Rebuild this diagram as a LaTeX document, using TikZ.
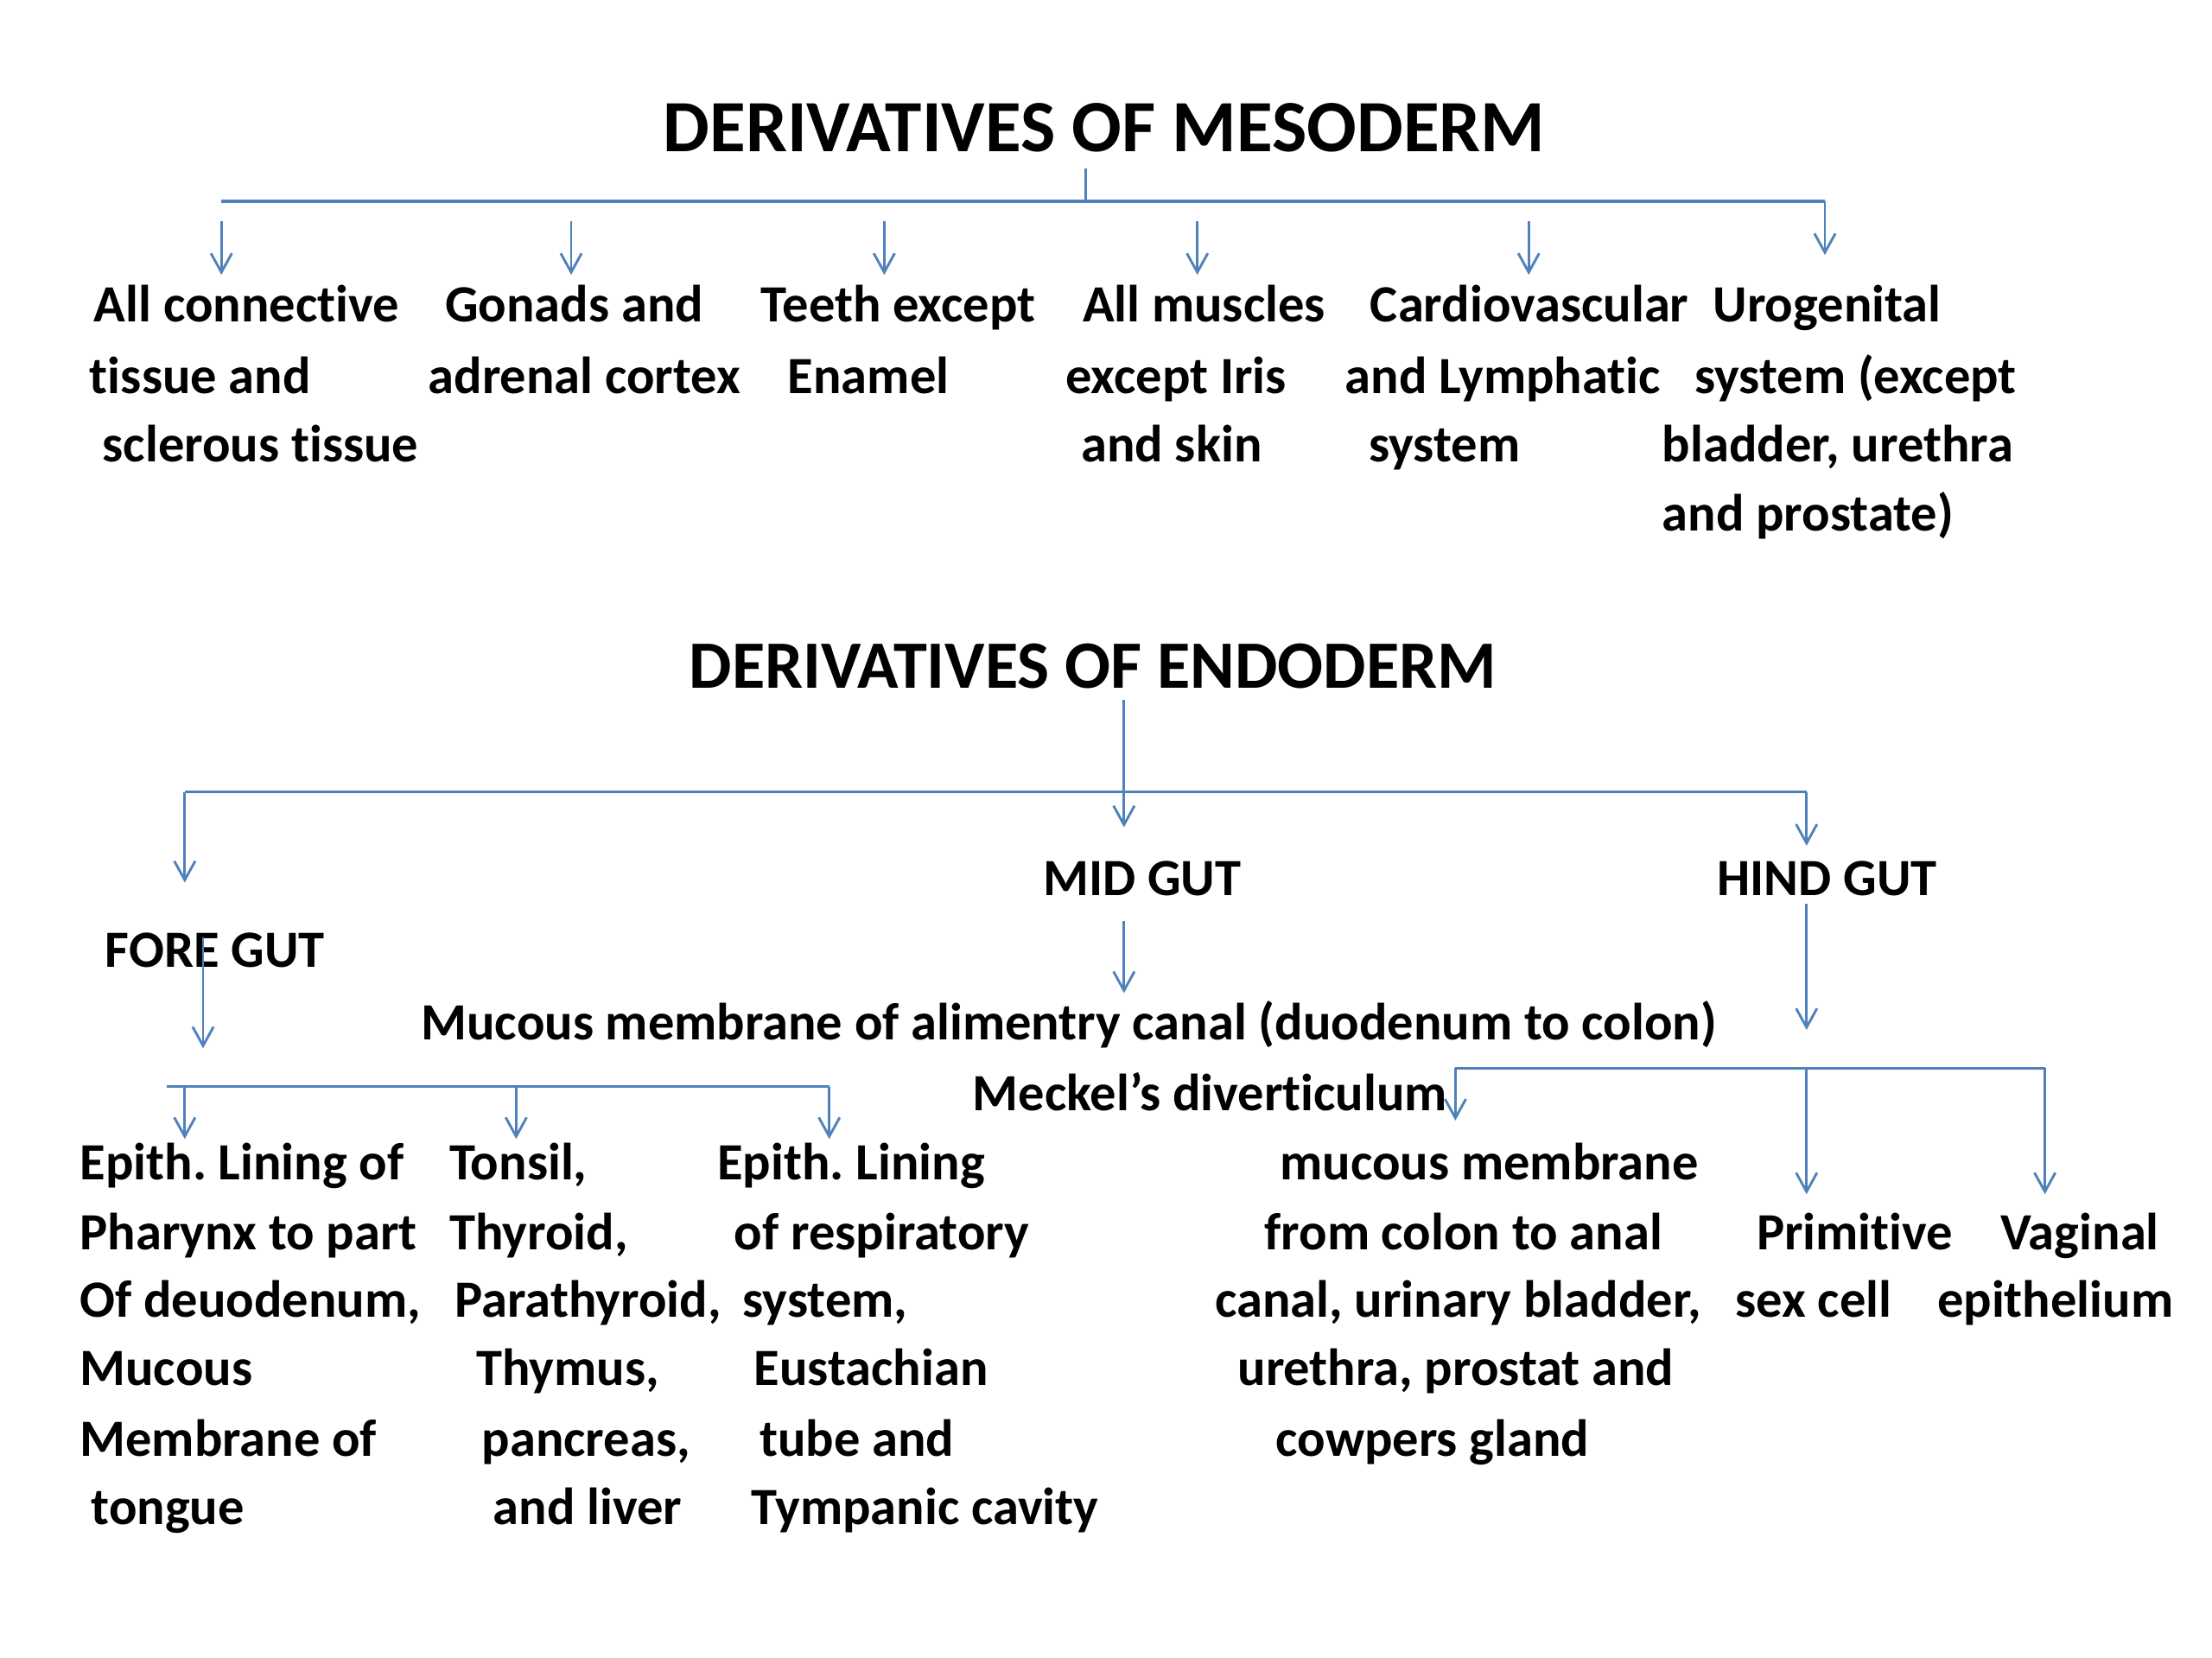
\documentclass[tikz,border=0pt]{standalone}
\usepackage{fontspec}
\setmainfont{Carlito}[Ligatures={NoCommon,NoRare},Contextuals=NoAlternate]
\usetikzlibrary{arrows.meta}
\definecolor{lnblue}{RGB}{79,129,189}
\frenchspacing
\begin{document}
\begin{tikzpicture}[x=0.009946cm,y=-0.01cm,
  txt/.style={anchor=base west,inner sep=0pt,font=\bfseries\fontsize{10.5}{12}\selectfont},
  ttl/.style={anchor=base,inner sep=0pt,font=\bfseries\fontsize{14.8}{18}\selectfont},
  ttlb/.style={anchor=base,inner sep=0pt,font=\bfseries\fontsize{13.6}{16}\selectfont},
  bar/.style={draw=lnblue,line width=0.6pt},
  arr/.style={draw=lnblue,line width=0.5pt,-{Straight Barb[length=3.8pt,width=4.2pt]}}]
\useasboundingbox (0,0) rectangle (1568.5,1170);
\fill[white] (0,0) rectangle (1568.5,1170);

% ---------- MESODERM ----------
\node[ttl] (meso) at (783,107) {DERIVATIVES OF MESODERM};
\coordinate (mtop) at (770,119);
\coordinate (mmid) at (770,142);
\coordinate (mL) at (157,142);
\coordinate (mR) at (1294,142);
\coordinate (mRend) at (1294,180);
\draw[bar] (mtop) -- (mmid);
\draw[bar] (mL) -- (mR);
\draw[arr] (mR) -- (mRend);
\foreach \i/\x in {1/157,2/405,3/627,4/849,5/1084}{
  \coordinate (ma\i) at (\x,156);
  \coordinate (mb\i) at (\x,194);
  \draw[arr] (ma\i) -- (mb\i);
}

\node[txt] (m1a) at (66,227) {All connective};
\node[txt] (m1b) at (63,278) {tissue and};
\node[txt] (m1c) at (72,326) {sclerous tissue};

\node[txt] (m2a) at (315,227) {Gonads and};
\node[txt] (m2b) at (303,278) {adrenal cortex};

\node[txt] (m3a) at (539,227) {Teeth except};
\node[txt] (m3b) at (558,278) {Enamel};

\node[txt] (m4a) at (767,227) {All muscles};
\node[txt] (m4b) at (755,278) {except Iris};
\node[txt] (m4c) at (766,326) {and skin};

\node[txt] (m5a) at (971,227) {Cardiovascular};
\node[txt] (m5b) at (953,278) {and Lymphatic};
\node[txt] (m5c) at (970,326) {system};

\node[txt] (m6a) at (1214,227) {Urogenital};
\node[txt] (m6b) at (1201,278) {system (except};
\node[txt] (m6c) at (1178,326) {bladder, urethra};
\node[txt] (m6d) at (1178,375) {and prostate)};

% ---------- ENDODERM ----------
\node[ttlb] (endo) at (775,486) {DERIVATIVES OF ENDODERM};
\coordinate (etop) at (797,494);
\coordinate (eMid) at (797,584);
\coordinate (eL) at (131,559);
\coordinate (eLend) at (131,623);
\coordinate (eR) at (1281,559);
\coordinate (eRend) at (1281,597);
\draw[bar] (eL) -- (eR);
\draw[arr] (etop) -- (eMid);
\draw[arr] (eL) -- (eLend);
\draw[arr] (eR) -- (eRend);

\node[txt] (mid) at (739,632) {MID GUT};
\node[txt] (hind) at (1217,632) {HIND GUT};
\node[txt] (fore) at (74,683) {FORE GUT};

\coordinate (f0) at (144,662);
\coordinate (f1) at (144,740);
\draw[arr] (f0) -- (f1);
\coordinate (g0) at (797,650);
\coordinate (g1) at (797,701);
\draw[arr] (g0) -- (g1);
\coordinate (h0) at (1281,638);
\coordinate (h1) at (1281,727);
\draw[arr] (h0) -- (h1);

\node[txt] (muc) at (298,734) {Mucous membrane of alimentry canal (duodenum to colon)};
\node[txt] (meck) at (689,784) {Meckel’s diverticulum};

% fore gut branches
\coordinate (fbL) at (118,767);
\coordinate (fbR) at (588,767);
\draw[bar] (fbL) -- (fbR);
\foreach \i/\x in {1/131,2/366,3/588}{
  \coordinate (fa\i) at (\x,767);
  \coordinate (fe\i) at (\x,804);
  \draw[arr] (fa\i) -- (fe\i);
}

% hind gut branches
\coordinate (hbL) at (1032,754);
\coordinate (hbR) at (1450,754);
\draw[bar] (hbL) -- (hbR);
\coordinate (hb1) at (1032,791);
\coordinate (hbM) at (1281,754);
\coordinate (hb2) at (1281,843);
\coordinate (hb3) at (1450,843);
\draw[arr] (hbL) -- (hb1);
\draw[arr] (hbM) -- (hb2);
\draw[arr] (hbR) -- (hb3);

% bottom columns
\node[txt] (c1a) at (56,833) {Epith. Lining of};
\node[txt] (c1b) at (56,882) {Pharynx to part};
\node[txt] (c1c) at (56,930) {Of deuodenum,};
\node[txt] (c1d) at (56,978) {Mucous};
\node[txt] (c1e) at (56,1028) {Membrane of};
\node[txt] (c1f) at (64,1076) {tongue};

\node[txt] (c2a) at (318,833) {Tonsil,};
\node[txt] (c2b) at (318,882) {Thyroid,};
\node[txt] (c2c) at (322,930) {Parathyroid,};
\node[txt] (c2d) at (337,978) {Thymus,};
\node[txt] (c2e) at (341,1028) {pancreas,};
\node[txt] (c2f) at (349,1076) {and liver};

\node[txt] (c3a) at (508,833) {Epith. Lining};
\node[txt] (c3b) at (520,882) {of respiratory};
\node[txt] (c3c) at (526,930) {system,};
\node[txt] (c3d) at (534,978) {Eustachian};
\node[txt] (c3e) at (538,1028) {tube and};
\node[txt] (c3f) at (532,1076) {Tympanic cavity};

\node[txt] (c4a) at (907,833) {mucous membrane};
\node[txt] (c4b) at (896,882) {from colon to anal};
\node[txt] (c4c) at (861,930) {canal, urinary bladder,};
\node[txt] (c4d) at (877,978) {urethra, prostat and};
\node[txt] (c4e) at (904,1028) {cowpers gland};

\node[txt] (c5a) at (1245,882) {Primitive};
\node[txt] (c5b) at (1230,930) {sex cell};

\node[txt] (c6a) at (1418,882) {Vaginal};
\node[txt] (c6b) at (1373,930) {epithelium};
\end{tikzpicture}
\end{document}
